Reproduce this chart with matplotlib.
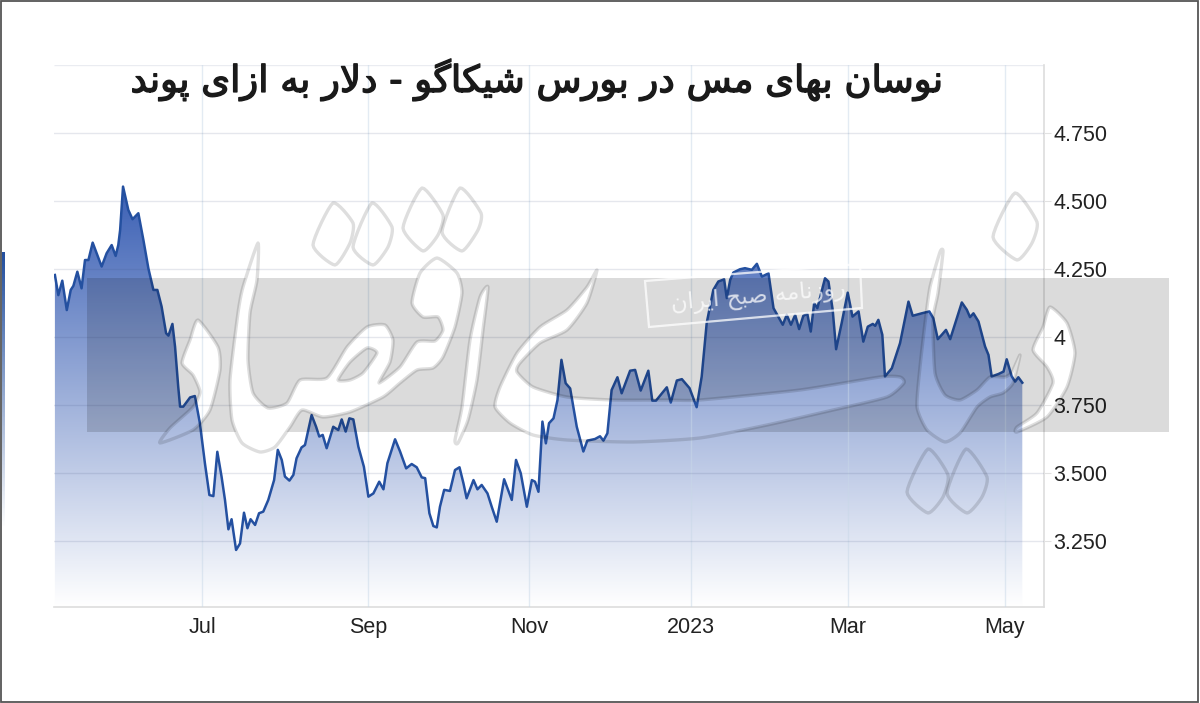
import numpy as np
import matplotlib
matplotlib.use("Agg")
import matplotlib.pyplot as plt
import matplotlib.patheffects as pe
from matplotlib.colors import LinearSegmentedColormap
from matplotlib.patches import PathPatch, Polygon, Rectangle
from matplotlib.path import Path

# days counted from 1 Jul 2022
days = [-55.7, -54.4, -52.9, -51.2, -49.7, -48.7, -47.2, -45.6, -44.3, -43.0, -41.4, -39.9, -38.0, -36.1, -34.2,
        -32.7, -31.7, -31.0, -29.9, -27.9, -26.3, -24.1, -22.2, -20.3, -18.4, -16.9, -15.3, -13.6, -12.7, -11.2,
        -10.2, -9.0, -8.3, -7.1, -4.5, -2.7, -0.8, 1.1, 2.8, 4.3, 5.8, 7.4, 8.7, 10.0, 11.2,
        12.9, 14.4, 15.9, 17.2, 18.4, 20.1, 21.6, 23.2, 25.1, 27.3, 28.7, 30.2, 31.4, 33.1, 34.6,
        35.8, 37.7, 39.0, 41.5, 43.2, 44.4, 45.7, 47.2, 49.7, 51.6, 52.9, 54.4, 55.8, 57.3, 59.2,
        61.3, 63.0, 64.9, 67.1, 68.7, 70.2, 73.1, 75.0, 77.3, 79.4, 81.3, 83.2, 84.5, 86.1, 87.6,
        88.9, 90.1, 91.7, 93.9, 95.8, 97.5, 99.0, 100.2, 102.8, 104.3, 105.9, 108.1, 109.7, 111.6, 114.4,
        117.3, 118.9, 120.7, 123.0, 124.9, 126.1, 127.4, 128.9, 130.2, 131.4, 133.1, 134.6, 136.1, 137.7, 139.4,
        141.9, 144.4, 145.9, 148.8, 150.7, 152.0, 153.5, 155.1, 157.3, 158.9, 162.1, 164.0, 166.1, 169.0, 170.5,
        171.9, 176.0, 177.5, 179.8, 181.7, 184.6, 187.3, 189.2, 191.1, 193.6, 195.5, 197.7, 198.7, 200.0, 201.2,
        203.7, 205.6, 208.2, 210.1, 212.0, 214.5, 216.4, 218.9, 219.9, 221.4, 223.0, 224.6, 226.1, 227.7, 229.2,
        230.5, 231.8, 233.0, 235.9, 237.2, 238.8, 240.1, 242.2, 244.5, 246.3, 248.6, 250.4, 252.1, 254.0, 254.9,
        256.1, 257.6, 258.6, 261.2, 264.3, 267.5, 269.1, 272.5, 275.4, 276.9, 278.6, 280.1, 281.7, 283.3, 287.7,
        289.6, 290.8, 292.1, 294.0, 296.5, 297.8, 299.0, 301.6, 303.5, 304.7, 306.6, 307.9, 309.1, 310.6]
prices = [4.228, 4.154, 4.207, 4.099, 4.173, 4.188, 4.240, 4.179, 4.283, 4.283, 4.347, 4.308, 4.259, 4.308, 4.338,
          4.298, 4.338, 4.393, 4.553, 4.467, 4.433, 4.455, 4.357, 4.252, 4.173, 4.173, 4.112, 4.014, 4.005, 4.048,
          3.964, 3.817, 3.744, 3.744, 3.778, 3.783, 3.683, 3.536, 3.419, 3.415, 3.578, 3.487, 3.401, 3.293, 3.330,
          3.217, 3.241, 3.354, 3.297, 3.330, 3.309, 3.352, 3.358, 3.401, 3.474, 3.585, 3.548, 3.487, 3.472, 3.493,
          3.554, 3.594, 3.603, 3.713, 3.670, 3.634, 3.640, 3.591, 3.670, 3.658, 3.697, 3.652, 3.701, 3.697, 3.597,
          3.523, 3.413, 3.425, 3.468, 3.440, 3.536, 3.624, 3.579, 3.517, 3.533, 3.521, 3.484, 3.481, 3.352, 3.305,
          3.300, 3.376, 3.438, 3.434, 3.511, 3.521, 3.462, 3.407, 3.474, 3.440, 3.456, 3.425, 3.376, 3.321, 3.477,
          3.401, 3.548, 3.499, 3.376, 3.474, 3.468, 3.431, 3.689, 3.609, 3.683, 3.701, 3.768, 3.916, 3.830, 3.811,
          3.670, 3.579, 3.619, 3.625, 3.635, 3.619, 3.646, 3.805, 3.852, 3.793, 3.876, 3.879, 3.803, 3.876, 3.766,
          3.766, 3.815, 3.759, 3.840, 3.845, 3.812, 3.742, 3.854, 4.051, 4.173, 4.204, 4.212, 4.143, 4.210, 4.237,
          4.249, 4.253, 4.247, 4.269, 4.222, 4.234, 4.106, 4.063, 4.045, 4.081, 4.045, 4.081, 4.029, 4.078, 4.085,
          4.020, 4.124, 4.106, 4.216, 4.204, 4.100, 3.955, 4.051, 4.163, 4.075, 4.094, 3.983, 4.038, 4.048, 4.041,
          4.063, 4.008, 3.855, 3.885, 3.977, 4.130, 4.078, 4.087, 4.094, 4.069, 3.992, 4.008, 4.026, 3.992, 4.127,
          4.100, 4.073, 4.087, 4.057, 3.965, 3.934, 3.855, 3.864, 3.873, 3.918, 3.855, 3.836, 3.852, 3.832]

month_days = [0, 63, 124, 185, 244.5, 304]
month_labels = ["Jul", "Sep", "Nov", "2023", "Mar", "May"]
price_ticks = [3.25, 3.5, 3.75, 4.0, 4.25, 4.5, 4.75]
price_labels = ["3.250", "3.500", "3.750", "4", "4.250", "4.500", "4.750"]
grid_only = [5.0]

title = "نوسان بهای مس در بورس شیکاگو - دلار به ازای پوند"
stamp = "روزنامه صبح ایران"

# matplotlib does not join arabic letters, so pick the presentation forms by hand
dual = {"ب": 0xFE8F, "پ": 0xFB56, "ح": 0xFEA1, "س": 0xFEB1, "ش": 0xFEB5, "ص": 0xFEB9, "ک": 0xFB8E, "گ": 0xFB92,
        "ل": 0xFEDD, "م": 0xFEE1, "ن": 0xFEE5, "ه": 0xFEE9, "ی": 0xFBFC}
right = {"ا": 0xFE8D, "د": 0xFEA9, "ر": 0xFEAD, "ز": 0xFEAF, "و": 0xFEED}


def shape(text):
    out = []
    i = 0
    while i < len(text):
        c = text[i]
        prev = text[i - 1] if i > 0 else " "
        nxt = text[i + 1] if i + 1 < len(text) else " "
        joined = prev in dual
        if c == "ل" and nxt == "ا":
            out.append(chr(0xFEFC if joined else 0xFEFB))
            i += 2
            continue
        if c in dual:
            f = {(False, False): 0, (True, False): 1, (False, True): 2, (True, True): 3}[(joined, nxt in dual or nxt in right)]
            out.append(chr(dual[c] + f))
        elif c in right:
            out.append(chr(right[c] + (1 if joined else 0)))
        else:
            out.append(c)
        i += 1
    return "".join(reversed(out))


def smooth(pts, s=0.3, n=8):
    # closed cardinal spline through the points, small s keeps the tips sharp
    p = np.array(pts, dtype=float)
    res = []
    for i in range(len(p)):
        p0, p1, p2, p3 = p[i - 1], p[i], p[(i + 1) % len(p)], p[(i + 2) % len(p)]
        m1, m2 = s * (p2 - p0), s * (p3 - p1)
        for t in np.linspace(0, 1, n, endpoint=False):
            res.append((2 * t ** 3 - 3 * t ** 2 + 1) * p1 + (t ** 3 - 2 * t ** 2 + t) * m1
                       + (-2 * t ** 3 + 3 * t ** 2) * p2 + (t ** 3 - t ** 2) * m2)
    return np.array(res)


def ring(pts, positive):
    r = smooth(pts)
    x, y = r[:, 0], r[:, 1]
    area = np.sum(x * np.roll(y, -1) - np.roll(x, -1) * y)
    if (area > 0) != positive:
        r = r[::-1]
    return r


def add_ring(verts, codes, r):
    verts.extend(r.tolist() + [r[0].tolist()])
    codes.extend([Path.MOVETO] + [Path.LINETO] * (len(r) - 1) + [Path.CLOSEPOLY])


# watermark outlines, in picture pixels
w_dal = [(198, 320), (218, 347), (220, 370), (210, 410), (193, 430), (160, 443), (170, 428), (193, 407), (200, 392),
         (193, 375), (182, 363), (190, 340)]
w_main = [(258, 243), (257, 280), (250, 313), (248, 360), (253, 393), (268, 408), (287, 403), (300, 380), (327, 378),
          (347, 347), (367, 327), (385, 325), (393, 340), (390, 362), (379, 383), (400, 367), (417, 342), (435, 341),
          (443, 330), (438, 317), (423, 317), (412, 303), (420, 273), (437, 258), (457, 273), (462, 293), (455, 327),
          (443, 357), (433, 368), (417, 370), (400, 383), (383, 397), (350, 412), (323, 417), (302, 410), (290, 427),
          (275, 447), (260, 452), (242, 443), (232, 420), (230, 380), (238, 313), (243, 287)]
w_eye = [(338, 380), (350, 362), (367, 348), (377, 353), (363, 373), (350, 380)]
w_alef = [(488, 287), (483, 330), (477, 380), (468, 420), (458, 443), (455, 440), (462, 407), (470, 340), (480, 297)]
w_yeh = [(597, 270), (587, 303), (567, 330), (540, 343), (520, 363), (517, 372), (533, 387), (567, 397), (613, 400),
         (667, 400), (700, 400), (800, 390), (880, 377), (900, 377), (904, 383), (887, 397), (833, 410), (767, 425),
         (700, 438), (633, 442), (567, 440), (533, 435), (510, 423), (495, 407), (500, 387), (517, 353), (540, 327),
         (567, 310), (587, 287)]
w_right = [(943, 252), (938, 293), (933, 320), (935, 373), (945, 395), (960, 400), (977, 390), (990, 377), (1005, 377),
           (1012, 372), (1020, 355), (1013, 383), (1003, 393), (990, 397), (977, 407), (960, 433), (945, 442),
           (927, 430), (917, 407), (920, 367), (925, 323), (930, 287), (940, 252)]
w_noon = [(1050, 307), (1067, 323), (1075, 353), (1067, 387), (1047, 417), (1017, 432), (1017, 427), (1037, 413),
          (1053, 383), (1047, 367), (1033, 350), (1043, 327)]
w_dots = [[(333, 203), (353, 223), (350, 243), (335, 265), (313, 245)],
          [(372, 203), (392, 227), (388, 247), (373, 265), (353, 247)],
          [(422, 188), (443, 215), (438, 235), (423, 251), (403, 228)],
          [(460, 188), (481, 213), (478, 230), (462, 251), (442, 232)],
          [(1015, 193), (1037, 222), (1032, 243), (1017, 260), (993, 237)],
          [(928, 449), (948, 475), (943, 497), (928, 513), (907, 492)],
          [(966, 449), (987, 477), (982, 497), (967, 513), (947, 493)]]
holes = [w_dal, w_main, w_alef, w_yeh, w_right, w_noon]

W, H = 1200, 703
fig = plt.figure(figsize=(W / 100, H / 100), dpi=100)
plt.rcParams["font.family"] = ["Liberation Sans", "DejaVu Sans"]

ax = fig.add_axes([54 / W, 1 - 607 / H, 990 / W, 542 / H])
ax.set_xlim((54 - 202) / 2.641, (1044 - 202) / 2.641)
ax.set_ylim(4.5 - (607 - 201) / 272, 5.0)

# area under the line, gradient clipped to it
cmap = LinearSegmentedColormap.from_list("fade", ["#ffffff", "#3a5fb4"])
grad = np.linspace(1, 0, 256).reshape(-1, 1)
im = ax.imshow(grad, cmap=cmap, aspect="auto", zorder=1,
               extent=(ax.get_xlim()[0], ax.get_xlim()[1], ax.get_ylim()[0], 4.56))
area = np.column_stack([[days[0]] + days + [days[-1]], [ax.get_ylim()[0]] + prices + [ax.get_ylim()[0]]])
clip = Polygon(area, closed=True, transform=ax.transData, fc="none", ec="none")
ax.add_patch(clip)
im.set_clip_path(clip)
ax.set_xlim((54 - 202) / 2.641, (1044 - 202) / 2.641)
ax.set_ylim(4.5 - (607 - 201) / 272, 5.0)

ax.plot(days, prices, color="#2450a0", lw=1.8, zorder=3, solid_joinstyle="round")

ax.set_axisbelow(False)
ax.xaxis.grid(True, color="#c8d8e8", lw=1, alpha=0.5)
ax.yaxis.grid(True, color="#3a4a78", lw=1, alpha=0.13)
ax.hlines(grid_only, ax.get_xlim()[0], ax.get_xlim()[1], color="#3a4a78", lw=1, alpha=0.1)

ax.set_xticks(month_days)
ax.set_xticklabels(month_labels, fontsize=15.5, color="#222222")
ax.set_yticks(price_ticks)
ax.set_yticklabels(price_labels, fontsize=15.5, color="#222222")
ax.yaxis.tick_right()
ax.tick_params(axis="x", length=0, pad=7)
ax.tick_params(axis="y", length=5, color="#e2e2e2", pad=2)
for side in ["top", "left"]:
    ax.spines[side].set_visible(False)
for side in ["right", "bottom"]:
    ax.spines[side].set_color("#dddddd")
    ax.spines[side].set_linewidth(1.2)
ax.patch.set_alpha(0)

# overlay in picture pixels: gray band with the watermark cut out of it
pix = fig.add_axes([0, 0, 1, 1], zorder=5)
pix.set_xlim(0, W)
pix.set_ylim(H, 0)
pix.axis("off")

verts, codes = [], []
rect = np.array([(87, 278), (1169, 278), (1169, 432), (87, 432)], dtype=float)
add_ring(verts, codes, rect)
outer = np.sum(rect[:, 0] * np.roll(rect[:, 1], -1) - np.roll(rect[:, 0], -1) * rect[:, 1]) > 0
for h in holes:
    add_ring(verts, codes, ring(h, not outer))
add_ring(verts, codes, ring(w_eye, outer))
band = PathPatch(Path(verts, codes), fc="black", ec="none", alpha=0.14)
pix.add_patch(band)
band.set_clip_path(Rectangle((87, 278), 1082, 154, transform=pix.transData))

for h in holes + [w_eye] + w_dots:
    pix.add_patch(Polygon(smooth(h), closed=True, fc="none", ec=(0, 0, 0, 0.13), lw=2.4, joinstyle="round"))

# stamp
pix.add_patch(Polygon([(645, 281), (860, 264), (862, 308), (649, 327)], closed=True, fc="none",
                      ec=(1, 1, 1, 0.75), lw=1.6))
pix.text(758, 297, shape(stamp), family="DejaVu Sans", fontsize=16.5, color="white", alpha=0.75,
         rotation=5, rotation_mode="anchor", ha="center", va="center")

pix.text(536, 80, shape(title), family="DejaVu Sans", fontsize=26.6, color="#1a1a1a", ha="center", va="center",
         path_effects=[pe.withStroke(linewidth=1.0, foreground="#1a1a1a")])

# sliver of the neighbouring chart at the left edge
edge = LinearSegmentedColormap.from_list("edge", ["#24509f", "#ffffff"])
pix.imshow(np.linspace(0, 1, 64).reshape(-1, 1), cmap=edge, aspect="auto", extent=(1.5, 4, 530, 252))
pix.set_xlim(0, W)
pix.set_ylim(H, 0)

pix.add_patch(Rectangle((0.8, 0.8), W - 3, H - 2.2, fc="none", ec="#555555", lw=1.3))

fig.savefig("out.png", dpi=100)
